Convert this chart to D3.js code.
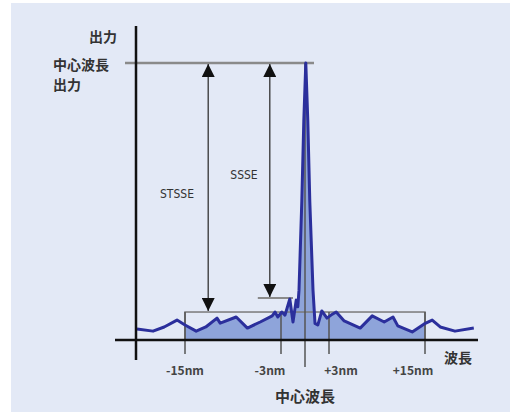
<!DOCTYPE html>
<html>
<head>
    <meta charset="utf-8">
    <title>SSSE / STSSE</title>
    <style type="text/css">
        body { margin: 0; background: #fff; }
        text { font-family: "Noto Sans CJK JP", "DejaVu Sans", sans-serif; fill: #333; }
    </style>
</head>
<body>
<svg id="chart" width="517" height="412"></svg>

<script src="https://cdn.jsdelivr.net/npm/d3@7"></script>
<script type="text/javascript">
    // 波長 (nm, 中心波長からのずれ)
    var wavelength = [-21, -19, -17.6, -16, -15, -13.6, -12.4, -11, -10.6, -8.6, -7.2, -5.6, -4.1, -3.75, -3.4, -2.9, -2.5,
        -1.9, -1.5, -1.1, -0.9, -0.75, -0.4, -0.15, 0.1, 0.35, 0.6, 1.0, 1.25, 1.6, 2.1, 2.75, 3.25, 3.9, 4.9,
        6.9, 8.4, 9.9, 11, 11.6, 13.4, 14.9, 15.9, 16.9, 18.75, 21.1];
    // 出力 (相対値, 中心波長出力 = 100)
    var output = [4.0, 3.2, 4.7, 7.2, 5.4, 3.2, 4.7, 7.9, 6.1, 8.3, 4.3, 6.5, 8.7, 10.1, 8.3, 10.1, 9.0,
        14.8, 6.5, 14.4, 12.0, 18, 50, 79, 100, 79, 50, 18, 6.0, 5.4, 10.5, 7.9, 9.0, 10.1, 6.9,
        4.3, 8.7, 6.5, 8.3, 5.1, 2.9, 5.8, 7.2, 4.7, 3.2, 4.3];

    var tickValues = [-15, -3, 3, 15];
    var tickLabels = ["-15nm", "-3nm", "+3nm", "+15nm"];
    var stsseLevel = 10.1;   // -15nm〜+15nm の最大ノイズ
    var ssseLevel = 15.2;    // -3nm〜+3nm の最大ノイズ
    var peakLevel = 100;

    var svg = d3.select("#chart");

    // 背景
    svg.append("rect")
        .attr("x", 11).attr("y", 3)
        .attr("width", 499).attr("height", 409)
        .attr("fill", "#e3e9f6");

    var x = d3.scaleLinear().domain([-15, 15]).range([185, 425]);
    var y = d3.scaleLinear().domain([0, 100]).range([340, 63]);

    var pts = wavelength.map(function (d, i) {
        return [d, output[i]];
    });

    // -15nm〜+15nm の塗り
    svg.append("clipPath").attr("id", "band")
        .append("rect")
        .attr("x", x(-15)).attr("y", 0)
        .attr("width", x(15) - x(-15)).attr("height", y(0));

    svg.append("path")
        .datum(pts)
        .attr("clip-path", "url(#band)")
        .attr("fill", "#8ea4da")
        .attr("d", d3.area()
            .x(function (d) { return x(d[0]); })
            .y0(y(0))
            .y1(function (d) { return y(d[1]); }));

    var grey = "#7a7a7a";

    // 補助線
    svg.append("line")
        .attr("x1", 125).attr("x2", x(0) + 9)
        .attr("y1", y(peakLevel)).attr("y2", y(peakLevel))
        .attr("stroke", "#8a8a8a").attr("stroke-width", 2.5);

    svg.append("line")
        .attr("x1", x(-5.9)).attr("x2", x(-1.5))
        .attr("y1", y(ssseLevel)).attr("y2", y(ssseLevel))
        .attr("stroke", "#8a8a8a").attr("stroke-width", 2);

    svg.append("rect")
        .attr("x", x(-15)).attr("y", y(stsseLevel))
        .attr("width", x(15) - x(-15)).attr("height", y(0) - y(stsseLevel))
        .attr("fill", "none")
        .attr("stroke", grey).attr("stroke-width", 1.5);

    svg.selectAll("line.tick")
        .data(tickValues)
        .enter().append("line")
        .attr("class", "tick")
        .attr("x1", function (d) { return x(d); })
        .attr("x2", function (d) { return x(d); })
        .attr("y1", y(stsseLevel))
        .attr("y2", y(0) + 14)
        .attr("stroke", "#555").attr("stroke-width", 1.5);

    svg.append("line")
        .attr("x1", x(0)).attr("x2", x(0))
        .attr("y1", y(peakLevel)).attr("y2", y(0) + 27)
        .attr("stroke", "#555").attr("stroke-width", 1.5);

    // スペクトル
    svg.append("path")
        .datum(pts)
        .attr("fill", "none")
        .attr("stroke", "#2b2f9c")
        .attr("stroke-width", 3)
        .attr("stroke-linejoin", "round")
        .attr("d", d3.line()
            .x(function (d) { return x(d[0]); })
            .y(function (d) { return y(d[1]); }));

    // 軸
    svg.append("line")
        .attr("x1", 136).attr("x2", 136)
        .attr("y1", 26).attr("y2", 360)
        .attr("stroke", "#111").attr("stroke-width", 2.5);
    svg.append("line")
        .attr("x1", 115).attr("x2", 478)
        .attr("y1", y(0)).attr("y2", y(0))
        .attr("stroke", "#111").attr("stroke-width", 2.5);

    // 矢印
    var defs = svg.append("defs");
    defs.append("marker")
        .attr("id", "head")
        .attr("viewBox", "0 0 10 10")
        .attr("refX", 10).attr("refY", 5)
        .attr("markerUnits", "userSpaceOnUse")
        .attr("markerWidth", 13).attr("markerHeight", 13)
        .attr("orient", "auto-start-reverse")
        .append("path")
        .attr("d", "M0,0 L10,5 L0,10 Z")
        .attr("fill", "#111");

    var arrows = [
        {x: -12.1, top: peakLevel, bottom: stsseLevel},
        {x: -4.4, top: peakLevel, bottom: ssseLevel}
    ];
    svg.selectAll("line.arrow")
        .data(arrows)
        .enter().append("line")
        .attr("class", "arrow")
        .attr("x1", function (d) { return x(d.x); })
        .attr("x2", function (d) { return x(d.x); })
        .attr("y1", function (d) { return y(d.top) + 1; })
        .attr("y2", function (d) { return y(d.bottom) - 1; })
        .attr("stroke", "#333").attr("stroke-width", 1.3)
        .attr("marker-start", "url(#head)")
        .attr("marker-end", "url(#head)");

    svg.append("text")
        .attr("x", 177).attr("y", 198)
        .attr("text-anchor", "middle")
        .style("font-size", "12px")
        .style("font-family", "'Liberation Sans Narrow', 'DejaVu Sans Condensed', sans-serif")
        .text("STSSE");
    svg.append("text")
        .attr("x", 244).attr("y", 179)
        .attr("text-anchor", "middle")
        .style("font-size", "12px")
        .style("font-family", "'Liberation Sans Narrow', 'DejaVu Sans Condensed', sans-serif")
        .text("SSSE");

    // ラベル
    var labelDx = [0, -11, 12, -12];
    svg.selectAll("text.tl")
        .data(tickLabels)
        .enter().append("text")
        .attr("class", "tl")
        .attr("x", function (d, i) { return x(tickValues[i]) + labelDx[i]; })
        .attr("y", 375)
        .attr("text-anchor", "middle")
        .style("font-size", "12px")
        .style("font-weight", "bold")
        .style("fill", "#444")
        .text(function (d) { return d; });

    svg.append("text").attr("x", 458).attr("y", 363)
        .attr("text-anchor", "middle")
        .style("font-size", "14px").style("font-weight", "bold")
        .text("波長");
    svg.append("text").attr("x", x(0)).attr("y", 402)
        .attr("text-anchor", "middle")
        .style("font-size", "15px").style("font-weight", "bold")
        .text("中心波長");

    svg.append("text").attr("x", 117).attr("y", 42)
        .attr("text-anchor", "end")
        .style("font-size", "14px").style("font-weight", "bold")
        .text("出力");
    svg.append("text").attr("x", 53).attr("y", 70)
        .style("font-size", "14px").style("font-weight", "bold")
        .text("中心波長");
    svg.append("text").attr("x", 53).attr("y", 90)
        .style("font-size", "14px").style("font-weight", "bold")
        .text("出力");
</script>
</body>
</html>
